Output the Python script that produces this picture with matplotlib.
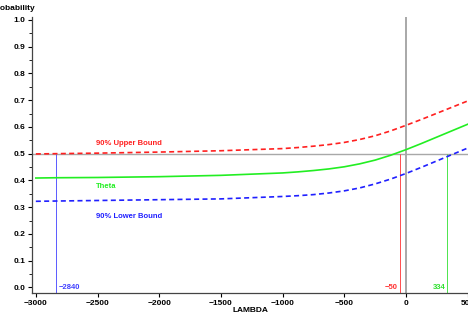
import matplotlib.pyplot as plt
import numpy as np

plt.rcParams['font.family'] = ['Liberation Sans', 'DejaVu Sans']
plt.rcParams['font.weight'] = 'bold'

# values
lam = [-3000, -2840, -2500, -2000, -1500, -1000, -875, -750, -625, -500, -375, -250, -125, 0, 125, 250, 375, 500]
upper = [0.499, 0.500, 0.502, 0.506, 0.511, 0.519, 0.523, 0.528, 0.534, 0.542, 0.553, 0.567, 0.585, 0.606, 0.628, 0.651, 0.674, 0.697]
theta = [0.409, 0.410, 0.411, 0.414, 0.419, 0.428, 0.432, 0.437, 0.443, 0.451, 0.462, 0.476, 0.494, 0.515, 0.538, 0.562, 0.586, 0.610]
lower = [0.322, 0.323, 0.325, 0.328, 0.331, 0.340, 0.343, 0.347, 0.353, 0.361, 0.372, 0.387, 0.405, 0.426, 0.449, 0.473, 0.497, 0.521]

cross_x = [-2840, -50, 334]
cross_lbl = ['\u22122840', '\u221250', '334']
cross_col = ['#4040ff', '#ff3030', '#30e030']

fig = plt.figure(figsize=(4.68, 3.26), dpi=100)
ax = fig.add_axes([0.0684, 0.102, 0.9415, 0.846])

ax.axhline(0.5, color='#a8a8a8', lw=1.0, zorder=1)
ax.axvline(0, color='#a8a8a8', lw=1.4, zorder=1)

ax.plot(lam, upper, color='#ff2020', lw=1.2, ls=(0, (3, 2)), zorder=3)
ax.plot(lam, theta, color='#22ee22', lw=1.2, zorder=3)
ax.plot(lam, lower, color='#2020ff', lw=1.2, ls=(0, (3, 2)), zorder=3)

for x, lbl, c in zip(cross_x, cross_lbl, cross_col):
    ax.vlines(x, -0.02, 0.5, color=c, lw=0.6, zorder=2)
    if x < -1000:
        ax.text(x + 25, 0.0, lbl, color=c, fontsize=5.5, ha='left', va='center')
    else:
        ax.text(x - 15, 0.0, lbl, color=c, fontsize=5.5, ha='right', va='center')

ax.text(-2510, 0.539, '90% Upper Bound', color='#ff2020', fontsize=5.5, va='center')
ax.text(-2510, 0.378, 'Theta', color='#22ee22', fontsize=5.5, va='center')
ax.text(-2510, 0.267, '90% Lower Bound', color='#2020ff', fontsize=5.5, va='center')

ax.set_xlim(-3031, 540)
ax.set_ylim(-0.0198, 1.011)
ax.set_xticks(np.arange(-3000, 501, 500))
ax.set_xticklabels(['\u22123000', '\u22122500', '\u22122000', '\u22121500', '\u22121000', '\u2212500', '0', '500'])
ax.set_yticks(np.arange(0, 1.01, 0.1))
ax.set_yticklabels(['%.1f' % v for v in np.arange(0, 1.01, 0.1)])
ax.set_yticks(np.arange(0.05, 1.0, 0.1), minor=True)
ax.tick_params(axis='both', labelsize=6, length=3, width=0.8, colors='black', pad=2)
ax.tick_params(axis='y', which='minor', length=2, width=0.6)

for s in ['top', 'right']:
    ax.spines[s].set_visible(False)
for s in ['left', 'bottom']:
    ax.spines[s].set_color('#444444')
    ax.spines[s].set_linewidth(0.9)

fig.text(-0.018, 0.975, 'Probability', fontsize=6, ha='left', va='center')
fig.text(250 / 468, 0.048, 'LAMBDA', fontsize=6, ha='center', va='center')

fig.savefig('out.png', dpi=100)
